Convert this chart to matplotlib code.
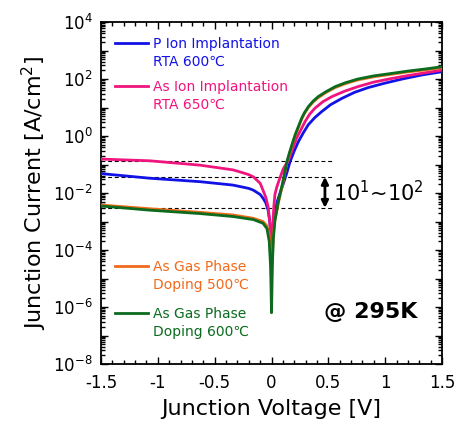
import math

import matplotlib
matplotlib.use("Agg")
import matplotlib.pyplot as plt
from matplotlib.ticker import MultipleLocator, LogLocator, FuncFormatter, NullFormatter

# series: bias [V] and |J| [A/cm^2]
V_P = [-1.5, -1.07, -0.63, -0.34, -0.25, -0.2, -0.16, -0.1, -0.075, -0.05, -0.03,
       -0.015, 0.0, 0.015, 0.03, 0.05, 0.075, 0.105, 0.134, 0.163, 0.2, 0.236,
       0.28, 0.324, 0.38, 0.44, 0.52, 0.62, 0.73, 0.85, 1.0, 1.15, 1.32, 1.5]
J_P = [4.8e-2, 3.3e-2, 2.5e-2, 1.9e-2, 1.6e-2, 1.45e-2, 1.26e-2, 8.9e-3, 6.6e-3,
       4.5e-3, 2.5e-3, 1e-3, 1e-4, 8e-4, 2.2e-3, 5e-3, 1e-2, 2.2e-2, 5e-2,
       1.26e-1, 0.3, 0.63, 1.3, 2.5, 4.4, 7.1, 12.6, 21, 34, 50, 72, 100, 138, 180]

V_AS = [-1.5, -1.07, -0.63, -0.34, -0.25, -0.2, -0.16, -0.1, -0.075, -0.05, -0.03,
        -0.01, 0.0, 0.01, 0.02, 0.03, 0.046, 0.075, 0.104, 0.148, 0.22, 0.26,
        0.295, 0.335, 0.38, 0.45, 0.53, 0.64, 0.76, 0.9, 1.06, 1.2, 1.35, 1.5]
J_AS = [1.55e-1, 1.35e-1, 9.5e-2, 6.5e-2, 5.1e-2, 4.4e-2, 3.7e-2, 2.2e-2, 1.26e-2,
        7e-3, 3.3e-3, 6.3e-4, 2.5e-5, 5e-4, 3.2e-3, 8.9e-3, 1.6e-2, 3.5e-2,
        7.1e-2, 1.4e-1, 0.83, 1.7, 3.2, 5.8, 9.3, 15.8, 24, 37, 54, 78, 105, 132,
        165, 205]

V_G5 = [-1.5, -1.07, -0.63, -0.34, -0.16, -0.075, -0.04, -0.02, -0.008, 0.0,
        0.01, 0.02, 0.03, 0.06, 0.1, 0.134, 0.16, 0.207, 0.265, 0.29, 0.324,
        0.365, 0.41, 0.48, 0.56, 0.65, 0.76, 0.9, 1.06, 1.2, 1.35, 1.5]
J_G5 = [3.8e-3, 2.8e-3, 2.1e-3, 1.7e-3, 1.3e-3, 1e-3, 7e-4, 3.2e-4, 6.3e-5, 1e-5,
        1e-4, 5e-4, 1.1e-3, 4.5e-3, 2.2e-2, 1.1e-1, 2.5e-1, 1.0, 3.9, 6.2, 10,
        15.5, 22, 34, 50, 69, 93, 120, 148, 178, 209, 250]

V_G6 = [-1.5, -1.07, -0.63, -0.34, -0.16, -0.075, -0.04, -0.02, -0.008, 0.0,
        0.008, 0.016, 0.03, 0.06, 0.1, 0.134, 0.16, 0.207, 0.265, 0.29, 0.324,
        0.365, 0.41, 0.48, 0.56, 0.65, 0.76, 0.9, 1.06, 1.2, 1.35, 1.5]
J_G6 = [3.5e-3, 2.5e-3, 1.9e-3, 1.5e-3, 1.17e-3, 8.7e-4, 5.6e-4, 2e-4, 2.5e-5,
        6.3e-7, 3.2e-5, 2.5e-4, 1.1e-3, 5e-3, 2.5e-2, 1.2e-1, 2.8e-1, 1.08, 4.2,
        6.6, 10.7, 16.6, 24, 36, 54, 74, 100, 129, 158, 190, 224, 270]

LABELS = ["P Ion Implantation\nRTA 600℃", "As Ion Implantation\nRTA 650℃",
          "As Gas Phase\nDoping 500℃", "As Gas Phase\nDoping 600℃"]
COLORS = ["#1212e6", "#f0147f", "#f26a1b", "#0b6b1e"]

LEVELS = [0.133, 0.037, 0.003]   # dashed guide lines
LEVEL_XMAX = 0.53
ARROW_V = 0.47

plt.rcParams['font.family'] = ['DejaVu Sans']
plt.rcParams['axes.unicode_minus'] = False
plt.rcParams['mathtext.fontset'] = 'dejavusans'

fig = plt.figure(figsize=(4.6, 4.25), dpi=100)
ax = fig.add_axes([0.2196, 0.1435, 0.7413, 0.8047])

for lv in LEVELS:
    ax.plot([-1.5, LEVEL_XMAX], [lv, lv], color="black", lw=0.8,
            ls=(0, (3.5, 2.5)), zorder=1)

series = [(V_P, J_P), (V_AS, J_AS), (V_G5, J_G5), (V_G6, J_G6)]
for (v, j), c in zip(series, COLORS):
    ax.plot(v, j, color=c, lw=2.0, zorder=3, solid_joinstyle="round")

ax.annotate("", xy=(ARROW_V, LEVELS[2]), xytext=(ARROW_V, LEVELS[1]),
            arrowprops=dict(arrowstyle="<|-|>", color="black", lw=2,
                            mutation_scale=10, shrinkA=0, shrinkB=0))
ax.text(0.54, 0.0105, r"10$^{1}$~10$^{2}$", fontsize=15, va="center", ha="left")
ax.text(0.79, 0.153, "@ 295K", transform=ax.transAxes, fontsize=16,
        fontweight="bold", ha="center", va="center")

# legend drawn by hand, one block per series
ly = [0.9386, 0.813, 0.2865, 0.149]
for y, lab, c in zip(ly, LABELS, COLORS):
    ax.plot([0.041, 0.138], [y, y], color=c, lw=2, transform=ax.transAxes)
    ax.text(0.152, y + 0.018, lab, color=c, fontsize=10, transform=ax.transAxes,
            va="top", ha="left", linespacing=1.4)


def log_label(y, pos):
    e = round(math.log10(y))
    return r"$10^{%d}$" % e if e % 2 == 0 else ""


ax.set_yscale("log")
ax.set_xlim(-1.5, 1.5)
ax.set_ylim(1e-8, 1e4)
ax.xaxis.set_major_locator(MultipleLocator(0.5))
ax.xaxis.set_minor_locator(MultipleLocator(0.1))
ax.xaxis.set_major_formatter(FuncFormatter(lambda x, p: "%g" % x))
ax.yaxis.set_major_locator(LogLocator(base=10, numticks=20))
ax.yaxis.set_minor_locator(LogLocator(base=10, subs=range(2, 10), numticks=20))
ax.yaxis.set_minor_formatter(NullFormatter())
ax.yaxis.set_major_formatter(FuncFormatter(log_label))
ax.tick_params(which="both", direction="in", top=True, right=True, width=1,
               labelsize=12)
ax.tick_params(which="major", length=5)
ax.tick_params(which="minor", length=3)
ax.tick_params(axis="x", pad=7)
ax.tick_params(axis="y", pad=6)
for s in ax.spines.values():
    s.set_linewidth(1.3)

ax.set_xlabel("Junction Voltage [V]", fontsize=16, labelpad=5)
ax.set_ylabel(r"Junction Current [A/cm$^{2}$]", fontsize=16, labelpad=3)

fig.savefig("out.png", dpi=100)
